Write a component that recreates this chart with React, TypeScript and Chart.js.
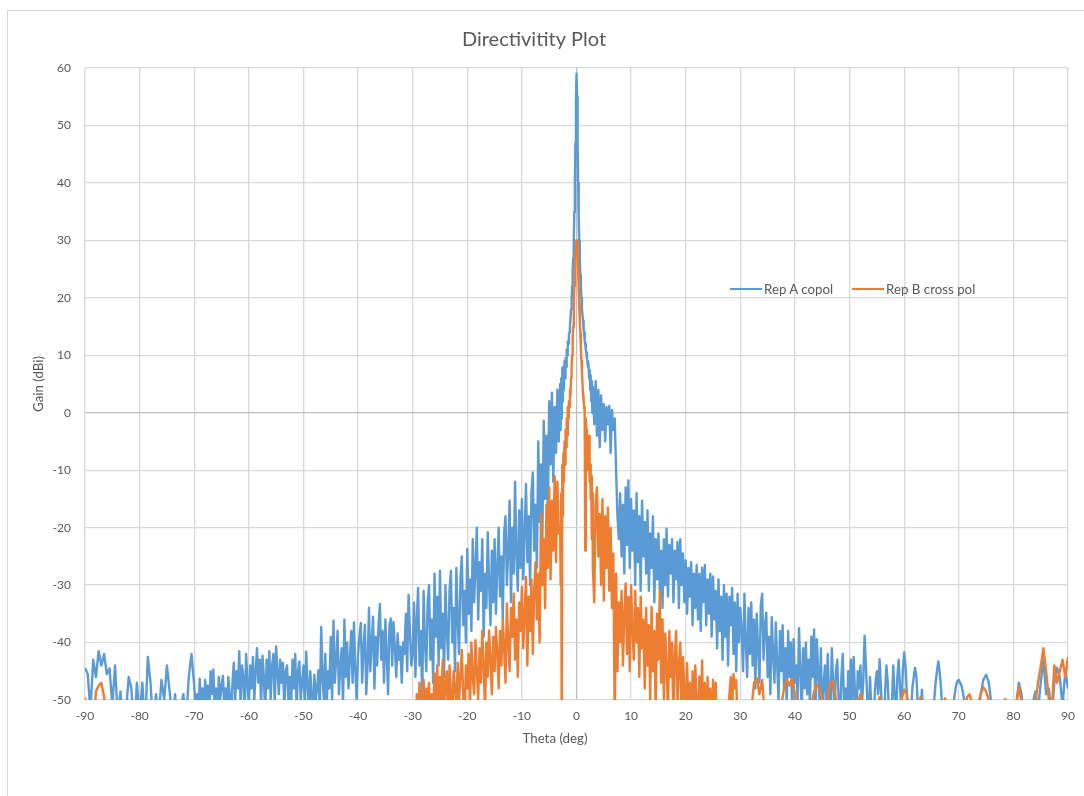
import React, { useEffect, useRef } from "react";
import { Chart, registerables } from "chart.js";

Chart.register(...registerables);

const FONT = "Lato, 'Open Sans', sans-serif";
const TEXT = "#595959";
const BLUE = "#5B9BD5";
const ORANGE = "#ED7D31";

const chartTitle = "Directivitity Plot";
const xTitle = "Theta (deg)";
const yTitle = "Gain (dBi)";
const seriesNames = ["Rep A copol", "Rep B cross pol"];

// ================= theta samples (deg) =================
// Rep A copol far-out samples
const thetaCopolFarLeft = [
  -90, -89.5, -89, -88.5, -88, -87.5, -87, -86.5, -86, -85.5,
  -85, -84.5, -84, -83.5, -83, -82.5, -82, -81.5, -81, -80.5,
  -80, -79.5, -79, -78.5, -78, -77.5, -77, -76.5, -76, -75.5,
  -75, -74.5, -74, -73.5, -73, -72.5, -72, -71.5, -71, -70.5,
];
const thetaCopolLeft = [
  -70, -69.75, -69.5, -69.25, -69, -68.75, -68.5, -68.25,
  -68, -67.75, -67.5, -67.25, -67, -66.75, -66.5, -66.25,
  -66, -65.75, -65.5, -65.25, -65, -64.75, -64.5, -64.25,
  -64, -63.75, -63.5, -63.25, -63, -62.75, -62.5, -62.25,
  -62, -61.75, -61.5, -61.25, -61, -60.75, -60.5, -60.25,
  -60, -59.75, -59.5, -59.25, -59, -58.75, -58.5, -58.25,
  -58, -57.75, -57.5, -57.25, -57, -56.75, -56.5, -56.25,
  -56, -55.75, -55.5, -55.25, -55, -54.75, -54.5, -54.25,
  -54, -53.75, -53.5, -53.25, -53, -52.75, -52.5, -52.25,
  -52, -51.75, -51.5, -51.25, -51, -50.75, -50.5, -50.25,
  -50, -49.75, -49.5, -49.25, -49, -48.75, -48.5, -48.25,
  -48, -47.75, -47.5, -47.25, -47, -46.75, -46.5, -46.25,
  -46, -45.75, -45.5, -45.25, -45, -44.75, -44.5, -44.25,
  -44, -43.75, -43.5, -43.25, -43, -42.75, -42.5, -42.25,
  -42, -41.75, -41.5, -41.25, -41, -40.75, -40.5, -40.25,
  -40, -39.75, -39.5, -39.25, -39, -38.75, -38.5, -38.25,
  -38, -37.75, -37.5, -37.25, -37, -36.75, -36.5, -36.25,
  -36, -35.75, -35.5, -35.25, -35, -34.75, -34.5, -34.25,
  -34, -33.75, -33.5, -33.25, -33, -32.75, -32.5, -32.25,
  -32, -31.75, -31.5, -31.25, -31, -30.75, -30.5, -30.25,
];
const thetaCopolRight = [
  30.25, 30.5, 30.75, 31, 31.25, 31.5, 31.75, 32,
  32.25, 32.5, 32.75, 33, 33.25, 33.5, 33.75, 34,
  34.25, 34.5, 34.75, 35, 35.25, 35.5, 35.75, 36,
  36.25, 36.5, 36.75, 37, 37.25, 37.5, 37.75, 38,
  38.25, 38.5, 38.75, 39, 39.25, 39.5, 39.75, 40,
  40.25, 40.5, 40.75, 41, 41.25, 41.5, 41.75, 42,
  42.25, 42.5, 42.75, 43, 43.25, 43.5, 43.75, 44,
  44.25, 44.5, 44.75, 45, 45.25, 45.5, 45.75, 46,
  46.25, 46.5, 46.75, 47, 47.25, 47.5, 47.75, 48,
  48.25, 48.5, 48.75, 49, 49.25, 49.5, 49.75, 50,
  50.25, 50.5, 50.75, 51, 51.25, 51.5, 51.75, 52,
  52.25, 52.5, 52.75, 53, 53.25, 53.5, 53.75, 54,
  54.25, 54.5, 54.75, 55, 55.25, 55.5, 55.75, 56,
  56.25, 56.5, 56.75, 57, 57.25, 57.5, 57.75, 58,
  58.25, 58.5, 58.75, 59, 59.25, 59.5, 59.75, 60,
  60.25, 60.5, 60.75, 61, 61.25, 61.5, 61.75, 62,
  62.25, 62.5, 62.75, 63, 63.25, 63.5, 63.75, 64,
  64.25, 64.5, 64.75, 65, 65.25, 65.5, 65.75, 66,
  66.25, 66.5, 66.75, 67, 67.25, 67.5, 67.75, 68,
  68.25, 68.5, 68.75, 69, 69.25, 69.5, 69.75, 70,
];
const thetaCopolFarRight = [
  70.5, 71, 71.5, 72, 72.5, 73, 73.5, 74, 74.5, 75,
  75.5, 76, 76.5, 77, 77.5, 78, 78.5, 79, 79.5, 80,
  80.5, 81, 81.5, 82, 82.5, 83, 83.5, 84, 84.5, 85,
  85.5, 86, 86.5, 87, 87.5, 88, 88.5, 89, 89.5, 90,
];
// Rep B cross pol outer samples
const thetaXpolOuterLeft = [
  -90, -89.5, -89, -88.5, -88, -87.5, -87, -86.5, -86, -85.5,
  -85, -84.5, -84, -83.5, -83, -82.5, -82, -81.5, -81, -80.5,
  -80, -79.5, -79, -78.5, -78, -77.5, -77, -76.5, -76, -75.5,
  -75, -74.5, -74, -73.5, -73, -72.5, -72, -71.5, -71, -70.5,
  -70, -69.5, -69, -68.5, -68, -67.5, -67, -66.5, -66, -65.5,
  -65, -64.5, -64, -63.5, -63, -62.5, -62, -61.5, -61, -60.5,
  -60, -59.5, -59, -58.5, -58, -57.5, -57, -56.5, -56, -55.5,
  -55, -54.5, -54, -53.5, -53, -52.5, -52, -51.5, -51, -50.5,
  -50, -49.5, -49, -48.5, -48, -47.5, -47, -46.5, -46, -45.5,
  -45, -44.5, -44, -43.5, -43, -42.5, -42, -41.5, -41, -40.5,
  -40, -39.5, -39, -38.5, -38, -37.5, -37, -36.5, -36, -35.5,
  -35, -34.5, -34, -33.5, -33, -32.5, -32, -31.5, -31, -30.5,
];
const thetaXpolOuterRight = [
  30.5, 31, 31.5, 32, 32.5, 33, 33.5, 34, 34.5, 35,
  35.5, 36, 36.5, 37, 37.5, 38, 38.5, 39, 39.5, 40,
  40.5, 41, 41.5, 42, 42.5, 43, 43.5, 44, 44.5, 45,
  45.5, 46, 46.5, 47, 47.5, 48, 48.5, 49, 49.5, 50,
  50.5, 51, 51.5, 52, 52.5, 53, 53.5, 54, 54.5, 55,
  55.5, 56, 56.5, 57, 57.5, 58, 58.5, 59, 59.5, 60,
  60.5, 61, 61.5, 62, 62.5, 63, 63.5, 64, 64.5, 65,
  65.5, 66, 66.5, 67, 67.5, 68, 68.5, 69, 69.5, 70,
  70.5, 71, 71.5, 72, 72.5, 73, 73.5, 74, 74.5, 75,
  75.5, 76, 76.5, 77, 77.5, 78, 78.5, 79, 79.5, 80,
  80.5, 81, 81.5, 82, 82.5, 83, 83.5, 84, 84.5, 85,
  85.5, 86, 86.5, 87, 87.5, 88, 88.5, 89, 89.5, 90,
];
// shared inner samples
const thetaInnerLeft = [
  -30, -29.75, -29.5, -29.25, -29, -28.75, -28.5, -28.25,
  -28, -27.75, -27.5, -27.25, -27, -26.75, -26.5, -26.25,
  -26, -25.75, -25.5, -25.25, -25, -24.75, -24.5, -24.25,
  -24, -23.75, -23.5, -23.25, -23, -22.75, -22.5, -22.25,
  -22, -21.75, -21.5, -21.25, -21, -20.75, -20.5, -20.25,
  -20, -19.75, -19.5, -19.25, -19, -18.75, -18.5, -18.25,
  -18, -17.75, -17.5, -17.25, -17, -16.75, -16.5, -16.25,
  -16, -15.75, -15.5, -15.25, -15, -14.75, -14.5, -14.25,
  -14, -13.75, -13.5, -13.25, -13, -12.75, -12.5, -12.25,
  -12, -11.75, -11.5, -11.25, -11, -10.75, -10.5, -10.25,
  -10, -9.75, -9.5, -9.25, -9, -8.75, -8.5, -8.25,
  -8, -7.75, -7.5, -7.25, -7, -6.75, -6.5, -6.25,
  -6, -5.75, -5.5, -5.25, -5, -4.75, -4.5, -4.25,
  -4, -3.75, -3.5, -3.25,
];
const thetaMain = [
  -3, -2.9, -2.8, -2.7, -2.6, -2.5, -2.4, -2.3, -2.2, -2.1,
  -2, -1.9, -1.8, -1.7, -1.6, -1.5, -1.4, -1.3, -1.2, -1.1,
  -1, -0.9, -0.8, -0.7, -0.6, -0.5, -0.4, -0.3, -0.2, -0.1,
  0, 0.1, 0.2, 0.3, 0.4, 0.5, 0.6, 0.7, 0.8, 0.9,
  1, 1.1, 1.2, 1.3, 1.4, 1.5, 1.6, 1.7, 1.8, 1.9,
  2, 2.1, 2.2, 2.3, 2.4, 2.5, 2.6, 2.7, 2.8, 2.9,
  3,
];
const thetaInnerRight = [
  3.25, 3.5, 3.75, 4, 4.25, 4.5, 4.75, 5,
  5.25, 5.5, 5.75, 6, 6.25, 6.5, 6.75, 7,
  7.25, 7.5, 7.75, 8, 8.25, 8.5, 8.75, 9,
  9.25, 9.5, 9.75, 10, 10.25, 10.5, 10.75, 11,
  11.25, 11.5, 11.75, 12, 12.25, 12.5, 12.75, 13,
  13.25, 13.5, 13.75, 14, 14.25, 14.5, 14.75, 15,
  15.25, 15.5, 15.75, 16, 16.25, 16.5, 16.75, 17,
  17.25, 17.5, 17.75, 18, 18.25, 18.5, 18.75, 19,
  19.25, 19.5, 19.75, 20, 20.25, 20.5, 20.75, 21,
  21.25, 21.5, 21.75, 22, 22.25, 22.5, 22.75, 23,
  23.25, 23.5, 23.75, 24, 24.25, 24.5, 24.75, 25,
  25.25, 25.5, 25.75, 26, 26.25, 26.5, 26.75, 27,
  27.25, 27.5, 27.75, 28, 28.25, 28.5, 28.75, 29,
  29.25, 29.5, 29.75, 30,
];

// ================= Rep A copol gain (dBi) =================
const copolFarLeft = [
  -44.4, -45.5, -52, -43, -46, -41.5, -44, -42, -45.5, -44.5,
  -51, -44, -53, -48.5, -55, -52, -46, -48, -56, -47,
  -53, -47, -55, -42.5, -47, -55, -49, -53, -46.5, -50,
  -44, -48.5, -54, -49, -56, -52, -49, -54, -46, -42,
];
const copolLeft = [
  -47.5, -52, -49, -55, -46.3, -51, -48, -53,
  -46.5, -50, -47.5, -52, -45, -49, -44.7, -51,
  -48, -53, -46, -50, -47.5, -45.8, -51, -48,
  -52, -46, -49, -54, -47, -43.5, -50, -45,
  -48, -41.5, -51, -44, -46, -52, -42, -47,
  -51, -44, -48, -42.5, -50, -45, -41, -47,
  -43, -51, -42.3, -46, -53, -43, -48, -41.5,
  -50, -44, -42, -51, -40.7, -45, -49, -43,
  -47, -43.5, -52, -45, -44, -50, -46, -51,
  -43, -48, -42, -52, -45, -43.3, -50, -47,
  -44, -51, -41.6, -47, -52, -45, -49, -53,
  -45.6, -50, -48, -44.8, -52, -37.3, -46, -50,
  -42, -51, -45, -48, -39, -50, -36.2, -47,
  -43, -38, -49, -44, -41, -51, -36, -46,
  -40, -48, -43, -38, -47, -36.5, -45, -50,
  -42, -39, -36.6, -47, -41, -36.9, -49, -44,
  -34, -45, -40, -35.5, -48, -39, -44, -37,
  -33.3, -43, -38, -47, -36, -42, -49, -37,
  -35.8, -44, -36.4, -41, -46, -38.4, -43, -40.7,
  -47, -40, -42, -35, -45, -31.7, -38, -44,
];
const copolInnerLeft = [
  -42, -33, -46, -36, -30.5, -44, -38, -50,
  -31, -40, -45, -33, -30, -43, -36, -47,
  -28, -39, -32, -44, -27.5, -41, -35, -46,
  -30, -38, -43, -31, -27.5, -40, -34, -45,
  -27, -36, -42, -29, -25, -37, -31, -40,
  -23.7, -35, -29, -38, -22, -33, -27, -20,
  -36, -26, -31, -22, -39, -28, -34, -20.8,
  -30, -37, -24, -33, -22, -35, -27, -20,
  -32, -25, -36, -21, -18, -30, -24, -15.3,
  -33, -20, -28, -12, -25, -31, -17, -27,
  -15, -29, -21, -12.4, -26, -18, -30, -14,
  -10.4, -24, -16, -27, -5, -19, -9, -22,
  -1.4, -15, -4, -18, 2, -9, 3.5, -12,
  1, -7, 4, -5,
];
const copolMain = [
  5, -3, 6, -1, 7.8, 2, 8, 4, 9, 6,
  9.5, 8, 11, 10, 12.4, 12, 13.5, 14, 15, 16.5,
  18, 19.5, 22, 25, 27, 30, 35, 40, 47, 54,
  59, 55, 47, 40, 34, 30, 27, 24, 22, 20,
  18, 17, 16, 14.5, 14, 12.5, 12, 11, 10.5, 9.5,
  9, 8, 8.5, 6, 7.5, 4, 6.5, 2, 5.5, 0,
  4.5,
];
const copolInnerRight = [
  -2, 5.5, -4, 4, -6, 3, -3, 1.5,
  -5, 1, -2, 1.2, -7, 0.5, -3, -1,
  -10, -18, -22, -14, -25, -16, -28, -13,
  -23, -11.8, -27, -15, -24, -17, -30, -14,
  -26, -18, -31, -15.3, -25, -19, -28, -17,
  -31, -21, -27, -18, -33, -22, -29, -21,
  -31, -24, -34, -22, -30, -20.2, -32, -23,
  -28, -22, -33, -24, -29, -22.5, -34, -22,
  -30, -24.5, -33, -25.7, -35, -27, -32, -26,
  -37, -28, -34, -26.5, -36, -28, -38, -27,
  -33, -26.5, -37, -29, -35, -28, -39, -28.5,
  -36, -31, -41, -29, -38, -32, -43, -30,
  -39, -31.5, -44, -32, -37, -30.5, -42, -33,
  -45, -31.5, -40, -34,
];
const copolRight = [
  -38, -45, -31.5, -40, -46, -34, -42, -33,
  -44, -36, -48, -35, -41, -47, -33.5, -31.5,
  -43, -37, -34.8, -46, -39, -49, -35.6, -42,
  -47, -36.5, -44, -50, -38, -45, -37, -48,
  -41, -51, -38, -46, -40, -53, -39.4, -47,
  -44, -50, -37.5, -45, -52, -41, -48, -40,
  -49, -43, -51, -39, -46, -37.7, -53, -39.4,
  -45, -50, -41, -55, -47, -44, -51, -42,
  -49, -53, -41, -47, -52, -45, -43, -50,
  -55, -46, -42, -51, -48, -56, -45, -50,
  -43, -52, -42.5, -49, -54, -45, -48, -44,
  -51, -47, -38.8, -44, -50, -55, -46, -52,
  -57, -51, -47, -45, -49, -42.9, -48, -53,
  -56, -49, -44, -47, -53, -58, -51, -44,
  -49, -55, -46, -43, -48, -52, -45, -41.7,
  -44, -49, -54, -57, -52, -48, -46, -44.4,
  -46, -51, -55, -52, -48.2, -53, -57, -58,
  -60, -59, -56, -55, -53, -50, -47, -45,
  -43.3, -45, -48, -52, -56, -58, -59, -60,
  -59, -57, -54, -51, -49, -47.5, -46.7, -46.5,
];
const copolFarRight = [
  -47.5, -50, -55, -58, -57, -55, -53, -49, -46.5, -45.6,
  -47, -51, -57, -58, -56, -57, -55, -57, -56, -53,
  -51, -47, -49, -55, -57, -54, -51, -48.5, -52, -47,
  -43, -49, -48, -53, -47, -44.4, -46, -51, -45, -48,
];

// ================= Rep B cross pol gain (dBi) =================
const xpolOuterLeft = [
  -49.5, -56, -59, -55, -48.5, -47.5, -47, -49.5, -56, -61,
  -63, -60, -64, -66, -62, -65, -61, -63, -67, -64,
  -62, -65, -63, -60, -64, -66, -62, -61, -65, -63,
  -64, -62, -66, -63, -61, -65, -62, -64, -60, -63,
  -61, -64, -62, -66, -63, -60, -65, -62, -64, -61,
  -63, -60, -64, -62, -65, -61, -63, -66, -62, -64,
  -61, -63, -60, -65, -62, -64, -61, -63, -60, -62,
  -64, -61, -63, -59, -62, -60, -64, -61, -58, -62,
  -60, -63, -59, -61, -58, -62, -60, -57, -61, -59,
  -58, -61, -57, -60, -56, -59, -62, -57, -60, -55,
  -58, -56, -60, -57, -55, -59, -56, -58, -54, -57,
  -55, -58, -54, -56, -53, -57, -54, -52, -56, -53,
];
const xpolInnerLeft = [
  -56, -52, -58, -49, -54, -47, -53, -50,
  -46.5, -55, -48, -52, -47, -56, -49, -53,
  -45.4, -51, -44, -54, -46, -50, -43, -52,
  -47, -45, -55, -44, -49, -53, -45, -48,
  -51, -43.5, -50, -46, -41.3, -49, -54, -44,
  -48, -42, -51, -40, -46, -49, -39.6, -45,
  -50, -41, -47, -38, -44, -52, -40, -46,
  -37.9, -43, -49, -39, -45, -37.3, -42, -48,
  -38, -44, -36, -41, -47, -33.2, -40, -45,
  -34, -39, -31.5, -43, -36, -46, -33, -38,
  -30.3, -41, -35, -28.6, -44, -32, -38, -29,
  -42, -31, -26, -36, -28, -40, -17.6, -30,
  -22, -34, -16, -27, -13, -29, -15.3, -24,
  -11, -26, -12, -21,
];
const xpolMain = [
  -20, -30, -14, -60, -9, -18, -7, -12, -5, -9,
  -3, -6, -1, -4, 1, -1, 2, 1, 4, 3,
  6, 8, 10, 13, 15, 18, 22, 25, 28, 30,
  29, 30, 28, 25, 22, 19, 16, 14, 11, 9,
  7, 5, 3, 2, 1, 0, -24, -1, -3, -6,
  -5, -10, -8, -4, -12, -9, -15, -11, -22, -14,
  -27,
];
const xpolInnerRight = [
  -33, -16, -13, -25, -17.6, -30, -15, -32.7,
  -18, -27, -16.5, -31, -20, -34, -24.5, -55,
  -28, -45, -33, -40, -31, -44, -35, -29.7,
  -42, -32, -45, -30, -38, -43, -31, -40,
  -34, -46, -32, -41, -36, -48, -34, -44,
  -37, -50, -33.8, -45, -38, -52, -35, -43,
  -31, -47, -36, -50, -38.4, -44, -53, -38,
  -46, -40, -55, -42, -38, -51, -44, -40,
  -54, -42.5, -48, -56, -43.6, -52, -47, -58,
  -45, -55, -44, -50, -57, -45.9, -53, -43.1,
  -56, -47, -60, -46, -54, -48, -59, -46.5,
  -52, -47, -58, -62, -55, -60, -57, -63,
  -58, -61, -54, -49, -46, -52, -45.5, -48,
  -46.5, -55, -60, -58,
];
const xpolOuterRight = [
  -62, -60, -57, -52, -47, -46.2, -49, -46.5, -53, -60,
  -63, -61, -58, -55, -51, -48, -46.5, -47.5, -46.2, -49,
  -56, -61, -64, -60, -56, -51, -48.5, -47.4, -48, -50,
  -54, -49, -47, -46.8, -50, -57, -62, -64, -60, -58,
  -56, -53, -50.5, -49, -51, -58, -62, -60, -56, -52,
  -49.5, -53, -60, -64, -62, -59, -56, -53, -50, -48.2,
  -49, -55, -60, -58, -53, -49.5, -51, -57, -63, -65,
  -62, -58, -54, -51, -49.7, -53, -59, -63, -61, -57,
  -54, -52, -49.5, -49, -51, -55, -51, -49, -47.8, -48.5,
  -50, -53, -58, -62, -59, -54, -49.8, -54, -60, -57,
  -51, -47.7, -50.5, -56, -61, -59, -54, -51, -47, -44.2,
  -41, -45, -50, -52, -44, -47, -45, -43, -46, -42.5,
];

const yTicksMin = -50;
const yTicksMax = 60;
const xTicksMin = -90;
const xTicksMax = 90;

const copolTheta = [
  ...thetaCopolFarLeft, ...thetaCopolLeft, ...thetaInnerLeft, ...thetaMain,
  ...thetaInnerRight, ...thetaCopolRight, ...thetaCopolFarRight,
];
const copolGain = [
  ...copolFarLeft, ...copolLeft, ...copolInnerLeft, ...copolMain,
  ...copolInnerRight, ...copolRight, ...copolFarRight,
];
const xpolTheta = [
  ...thetaXpolOuterLeft, ...thetaInnerLeft, ...thetaMain, ...thetaInnerRight, ...thetaXpolOuterRight,
];
const xpolGain = [
  ...xpolOuterLeft, ...xpolInnerLeft, ...xpolMain, ...xpolInnerRight, ...xpolOuterRight,
];

function toPoints(thetas: number[], values: number[]) {
  return thetas.map((t, i) => ({ x: t, y: values[i] }));
}

// The chart frame extends past the right edge of the screenshot.
const CANVAS_W = 1110;
const CANVAS_H = 796;

export default function App() {
  const canvasRef = useRef<HTMLCanvasElement | null>(null);

  useEffect(() => {
    const canvas = canvasRef.current;
    if (!canvas) return;
    const gridColor = (ctx: any) =>
      ctx.tick && ctx.tick.value === 0 ? "#bfbfbf" : "#d9d9d9";
    const chart = new Chart(canvas, {
      type: "line",
      data: {
        datasets: [
          {
            label: seriesNames[0],
            data: toPoints(copolTheta, copolGain),
            borderColor: BLUE,
            backgroundColor: BLUE,
            borderWidth: 2.4,
            pointRadius: 0,
            tension: 0,
            borderJoinStyle: "round",
            order: 2,
          },
          {
            label: seriesNames[1],
            data: toPoints(xpolTheta, xpolGain),
            borderColor: ORANGE,
            backgroundColor: ORANGE,
            borderWidth: 2.4,
            pointRadius: 0,
            tension: 0,
            borderJoinStyle: "round",
            order: 1,
          },
        ],
      },
      options: {
        animation: false,
        responsive: false,
        events: [],
        layout: { padding: { left: 0, right: CANVAS_W - 1068, top: 0, bottom: 0 } },
        plugins: {
          legend: { display: false },
          tooltip: { enabled: false },
          title: {
            display: true,
            text: chartTitle,
            color: TEXT,
            font: { family: FONT, size: 20, weight: "normal" },
            padding: { top: 28, bottom: 16 },
          },
        },
        scales: {
          x: {
            type: "linear",
            min: xTicksMin,
            max: xTicksMax,
            ticks: {
              stepSize: 10,
              color: TEXT,
              font: { family: FONT, size: 12 },
              padding: 9,
              maxRotation: 0,
              autoSkip: false,
            },
            grid: { color: gridColor, lineWidth: 1.3, drawTicks: false },
            border: { display: false },
            title: { display: false, text: xTitle },
            afterFit: (scale: any) => {
              scale.height = 96;
            },
          },
          y: {
            type: "linear",
            min: yTicksMin,
            max: yTicksMax,
            ticks: {
              stepSize: 10,
              color: TEXT,
              font: { family: FONT, size: 12 },
              padding: 14,
            },
            grid: { color: gridColor, lineWidth: 1.3, drawTicks: false },
            border: { display: false },
            title: {
              display: true,
              text: yTitle,
              color: TEXT,
              font: { family: FONT, size: 13.3 },
              padding: { top: 31, bottom: 0 },
            },
            afterFit: (scale: any) => {
              scale.width = 85;
            },
          },
        },
      },
    } as any);
    return () => chart.destroy();
  }, []);

  const legendItem = (color: string, label: string, left: number) => (
    <div
      style={{
        position: "absolute",
        left,
        top: 279,
        height: 20,
        display: "flex",
        alignItems: "center",
        fontFamily: FONT,
        fontSize: 13.3,
        color: TEXT,
        whiteSpace: "nowrap",
      }}
    >
      <span
        style={{
          display: "inline-block",
          width: 32,
          height: 2,
          background: color,
          marginRight: 2,
        }}
      />
      <span>{label}</span>
    </div>
  );

  return (
    <div
      style={{
        position: "fixed",
        left: 0,
        top: 0,
        width: 1084,
        height: 796,
        overflow: "hidden",
        background: "#ffffff",
      }}
    >
      <div
        style={{
          position: "absolute",
          left: 7,
          top: 10,
          width: 1120,
          height: 820,
          border: "1.5px solid #d9d9d9",
          boxSizing: "border-box",
        }}
      />
      <canvas
        ref={canvasRef}
        width={CANVAS_W}
        height={CANVAS_H}
        style={{ position: "absolute", left: 0, top: 0, width: CANVAS_W, height: CANVAS_H }}
      />
      <div
        style={{
          position: "absolute",
          left: 0,
          width: CANVAS_W,
          top: 729,
          textAlign: "center",
          fontFamily: FONT,
          fontSize: 13.3,
          lineHeight: "18px",
          color: TEXT,
        }}
      >
        {xTitle}
      </div>
      {legendItem(BLUE, seriesNames[0], 730)}
      {legendItem(ORANGE, seriesNames[1], 852)}
    </div>
  );
}
